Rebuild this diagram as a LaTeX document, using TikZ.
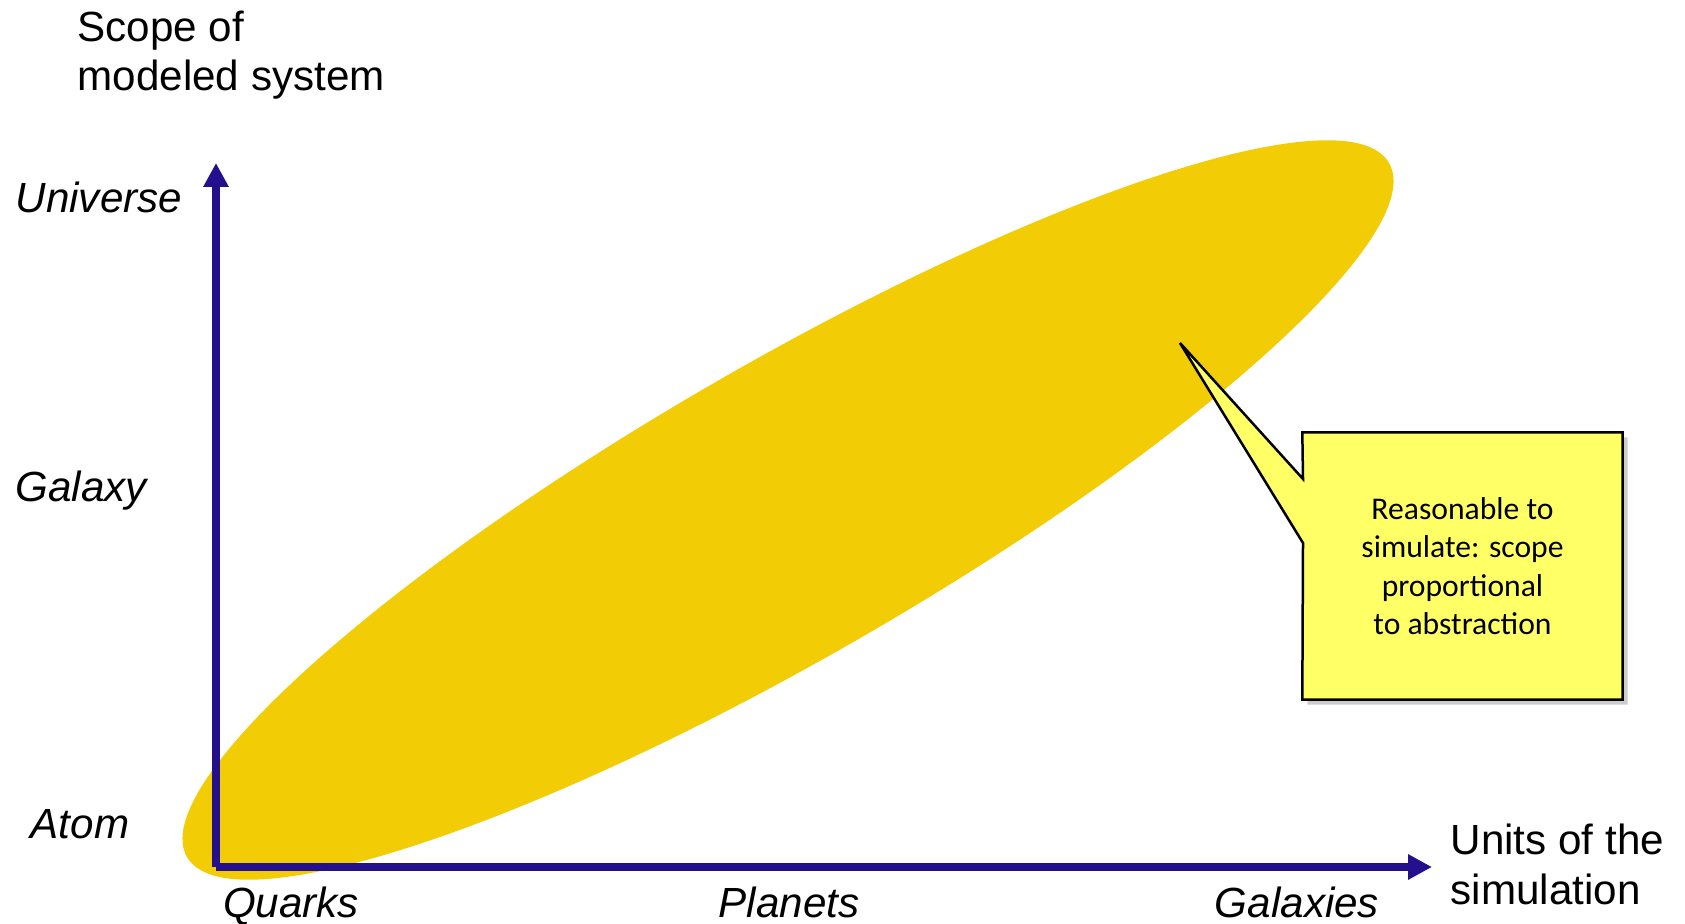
\documentclass[tikz,border=0pt]{standalone}
\usepackage{fontspec}
\setmainfont{Liberation Sans}
\newfontfamily\notefont{Carlito}
\usetikzlibrary{arrows.meta,shadows,backgrounds}

\definecolor{axisblue}{RGB}{36,16,140}
\definecolor{blobyellow}{RGB}{242,204,5}
\definecolor{noteyellow}{RGB}{255,255,102}

\tikzset{
	axis/.style={line width=0.08cm, axisblue, -{Triangle[length=0.24cm, width=0.24cm]}},
	scalelabel/.style={font=\fontsize{12}{14}\selectfont\itshape, inner sep=0pt},
	axistitle/.style={font=\fontsize{12}{14}\selectfont, align=left, inner sep=0pt},
	notebox/.style={minimum width=3.19cm, minimum height=2.66cm, inner sep=0pt, align=center,
		font=\notefont\fontsize{9}{10.9}\selectfont},
}

\begin{document}
\begin{tikzpicture}[x=0.1mm, y=-0.1mm, line join=miter]
	\useasboundingbox (0,0) rectangle (1685,924);
	
	% Axes
	\coordinate (O) at (216,867);
	\coordinate (ytip) at (216,163);
	\coordinate (xtip) at (1432,867);
	\draw[axis] (O) -- (ytip);
	\draw[axis] (O) -- (xtip);
	
	% Axis titles (base = last line)
	\node[axistitle, anchor=base west] (ytitle) at (77,91) {Scope of\\modeled system};
	\node[axistitle, anchor=base west] (xtitle) at (1450,904) {Units of the\\simulation};
	
	% Scale labels
	\foreach \x/\y/\t in {15/213/Universe, 15/502/Galaxy, 30/838/Atom} {
		\node[scalelabel, anchor=base west] (lbl-\t) at (\x,\y) {\t};
	}
	\foreach \x/\t in {291/Quarks, 789/Planets, 1297/Galaxies} {
		\node[scalelabel, anchor=base] (lbl-\t) at (\x,917) {\t};
	}
	
	% Callout
	\node[notebox] (note) at (1462.5,566) {Reasonable to\\simulate: scope\\proportional\\to abstraction};
	\coordinate (tip) at (1180,343);
	\coordinate (base1) at (1303,479);
	\coordinate (base2) at (1303,543);
	
	\begin{scope}[on background layer]
		% Reasonable region
		\fill[blobyellow, rotate around={30:(788,510)}] (788,510) ellipse (6.94cm and 1.47cm);
		\draw[fill=noteyellow, line width=0.025cm,
			drop shadow={shadow xshift=0.05cm, shadow yshift=-0.05cm, opacity=0.4}]
			(note.north west) -- (note.north east) -- (note.south east) -- (note.south west)
			-- (base2) -- (tip) -- (base1) -- cycle;
	\end{scope}
\end{tikzpicture}
\end{document}
